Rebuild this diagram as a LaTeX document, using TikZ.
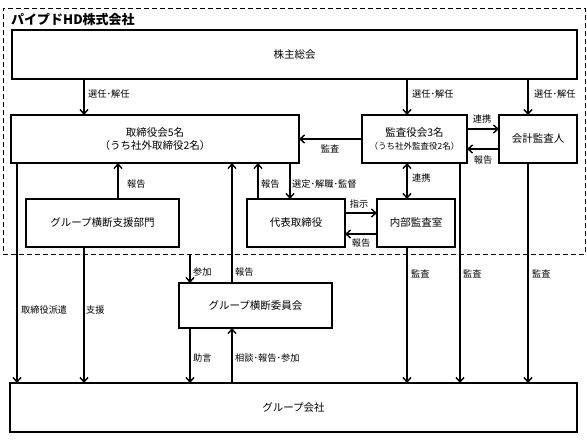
\documentclass[tikz,border=0pt]{standalone}
\usepackage{fontspec}
\setmainfont{Noto Sans CJK JP}
\usetikzlibrary{arrows.meta}
\begin{document}
\begin{tikzpicture}[x=1pt,y=-1pt,
  box/.style={draw,line width=1.2pt,inner sep=0pt,outer sep=0pt,align=center,font=\fontsize{10.5}{12.5}\selectfont},
  arr/.style={line width=1.4pt,-{Straight Barb[length=4.5pt,width=8pt]}},
  darr/.style={line width=1.4pt,{Straight Barb[length=4.5pt,width=8pt]}-{Straight Barb[length=4.5pt,width=8pt]}},
  lbl/.style={font=\fontsize{9.2}{10}\selectfont,inner sep=0pt,anchor=west},
]
\useasboundingbox (0,0) rectangle (587,440);
% frame
\node[draw,dashed,dash pattern=on 5pt off 3pt,line width=1pt,inner sep=0pt,outer sep=0pt,
      minimum width=582pt,minimum height=246pt] (hd) at (294,131) {};
\node[font=\bfseries\fontsize{13}{14}\selectfont,anchor=west,inner sep=0pt] (ttl) at (11,19) {パイプドHD株式会社};
% boxes
\node[box,minimum width=565pt,minimum height=49pt] (kab) at (294.5,54.5) {株主総会};
\node[box,minimum width=288pt,minimum height=48pt] (tor) at (155,139) {取締役会5名\\（うち社外取締役2名）};
\node[box,minimum width=105pt,minimum height=48pt] (kan) at (414.5,139) {監査役会3名\\{\fontsize{8.5}{10}\selectfont（うち社外監査役2名）}};
\node[box,minimum width=78pt,minimum height=48pt] (kai) at (538,139) {会計監査人};
\node[box,minimum width=153pt,minimum height=48pt] (shien) at (102.5,223) {グループ横断支援部門};
\node[box,minimum width=98pt,minimum height=48pt] (dai) at (296,223) {代表取締役};
\node[box,minimum width=78pt,minimum height=48pt] (nai) at (416,223) {内部監査室};
\node[box,minimum width=153pt,minimum height=45pt] (iin) at (255.5,305.5) {グループ横断委員会};
\node[box,minimum width=567pt,minimum height=49pt] (grp) at (293.5,407.5) {グループ会社};
% columns and rows
\coordinate (c1) at (17,0);
\coordinate (c2) at (84,0);
\coordinate (c3) at (118,0);
\coordinate (c4) at (190,0);
\coordinate (c5) at (232,0);
\coordinate (c6) at (258,0);
\coordinate (c7) at (290,0);
\coordinate (c8) at (407,0);
\coordinate (c9) at (460,0);
\coordinate (c10) at (528,0);
\coordinate (r1) at (0,139);
\coordinate (r2) at (0,129);
\coordinate (r3) at (0,149);
\coordinate (r4) at (0,213);
\coordinate (r5) at (0,234);
% connectors
\draw[arr] (kab.south -| c2) -- (tor.north -| c2);
\draw[arr] (kab.south -| c8) -- (kan.north -| c8);
\draw[arr] (kab.south -| c10) -- (kai.north -| c10);
\draw[arr] (kan.west |- r1) -- (tor.east |- r1);
\draw[arr] (kan.east |- r2) -- (kai.west |- r2);
\draw[arr] (kai.west |- r3) -- (kan.east |- r3);
\draw[arr] (shien.north -| c3) -- (tor.south -| c3);
\draw[arr] (dai.north -| c6) -- (tor.south -| c6);
\draw[arr] (tor.south -| c7) -- (dai.north -| c7);
\draw[darr] (kan.south -| c8) -- (nai.north -| c8);
\draw[arr] (dai.east |- r4) -- (nai.west |- r4);
\draw[arr] (nai.west |- r5) -- (dai.east |- r5);
\draw[arr] (tor.south -| c1) -- (grp.north -| c1);
\draw[arr] (shien.south -| c2) -- (grp.north -| c2);
\draw[arr] (iin.north -| c5) -- (tor.south -| c5);
\draw[arr] (hd.south -| c4) -- (iin.north -| c4);
\draw[arr] (iin.south -| c4) -- (grp.north -| c4);
\draw[arr] (grp.north -| c5) -- (iin.south -| c5);
\draw[arr] (nai.south -| c8) -- (grp.north -| c8);
\draw[arr] (kan.south -| c9) -- (grp.north -| c9);
\draw[arr] (kai.south -| c10) -- (grp.north -| c10);
% labels
\node[lbl] (l1) at (88,94) {選任･解任};
\node[lbl] (l2) at (412,94) {選任･解任};
\node[lbl] (l3) at (534,94) {選任･解任};
\node[lbl,anchor=center] (l4) at (330,149) {監査};
\node[lbl,anchor=center] (l5) at (482,119) {連携};
\node[lbl,anchor=center] (l6) at (483,160) {報告};
\node[lbl] (l7) at (127,184) {報告};
\node[lbl] (l8) at (261,184) {報告};
\node[lbl] (l9) at (292,184) {選定･解職･監督};
\node[lbl] (l10) at (412,178) {連携};
\node[lbl,anchor=center] (l11) at (359,204) {指示};
\node[lbl,anchor=center] (l12) at (361,243) {報告};
\node[lbl] (l13) at (193,272) {参加};
\node[lbl] (l14) at (235,272) {報告};
\node[lbl] (l15) at (21,310) {取締役派遣};
\node[lbl] (l16) at (86,310) {支援};
\node[lbl] (l17) at (193,358) {助言};
\node[lbl] (l18) at (235,358) {相談･報告･参加};
\node[lbl] (l19) at (411,274) {監査};
\node[lbl] (l20) at (463,274) {監査};
\node[lbl] (l21) at (532,274) {監査};
\end{tikzpicture}
\end{document}
